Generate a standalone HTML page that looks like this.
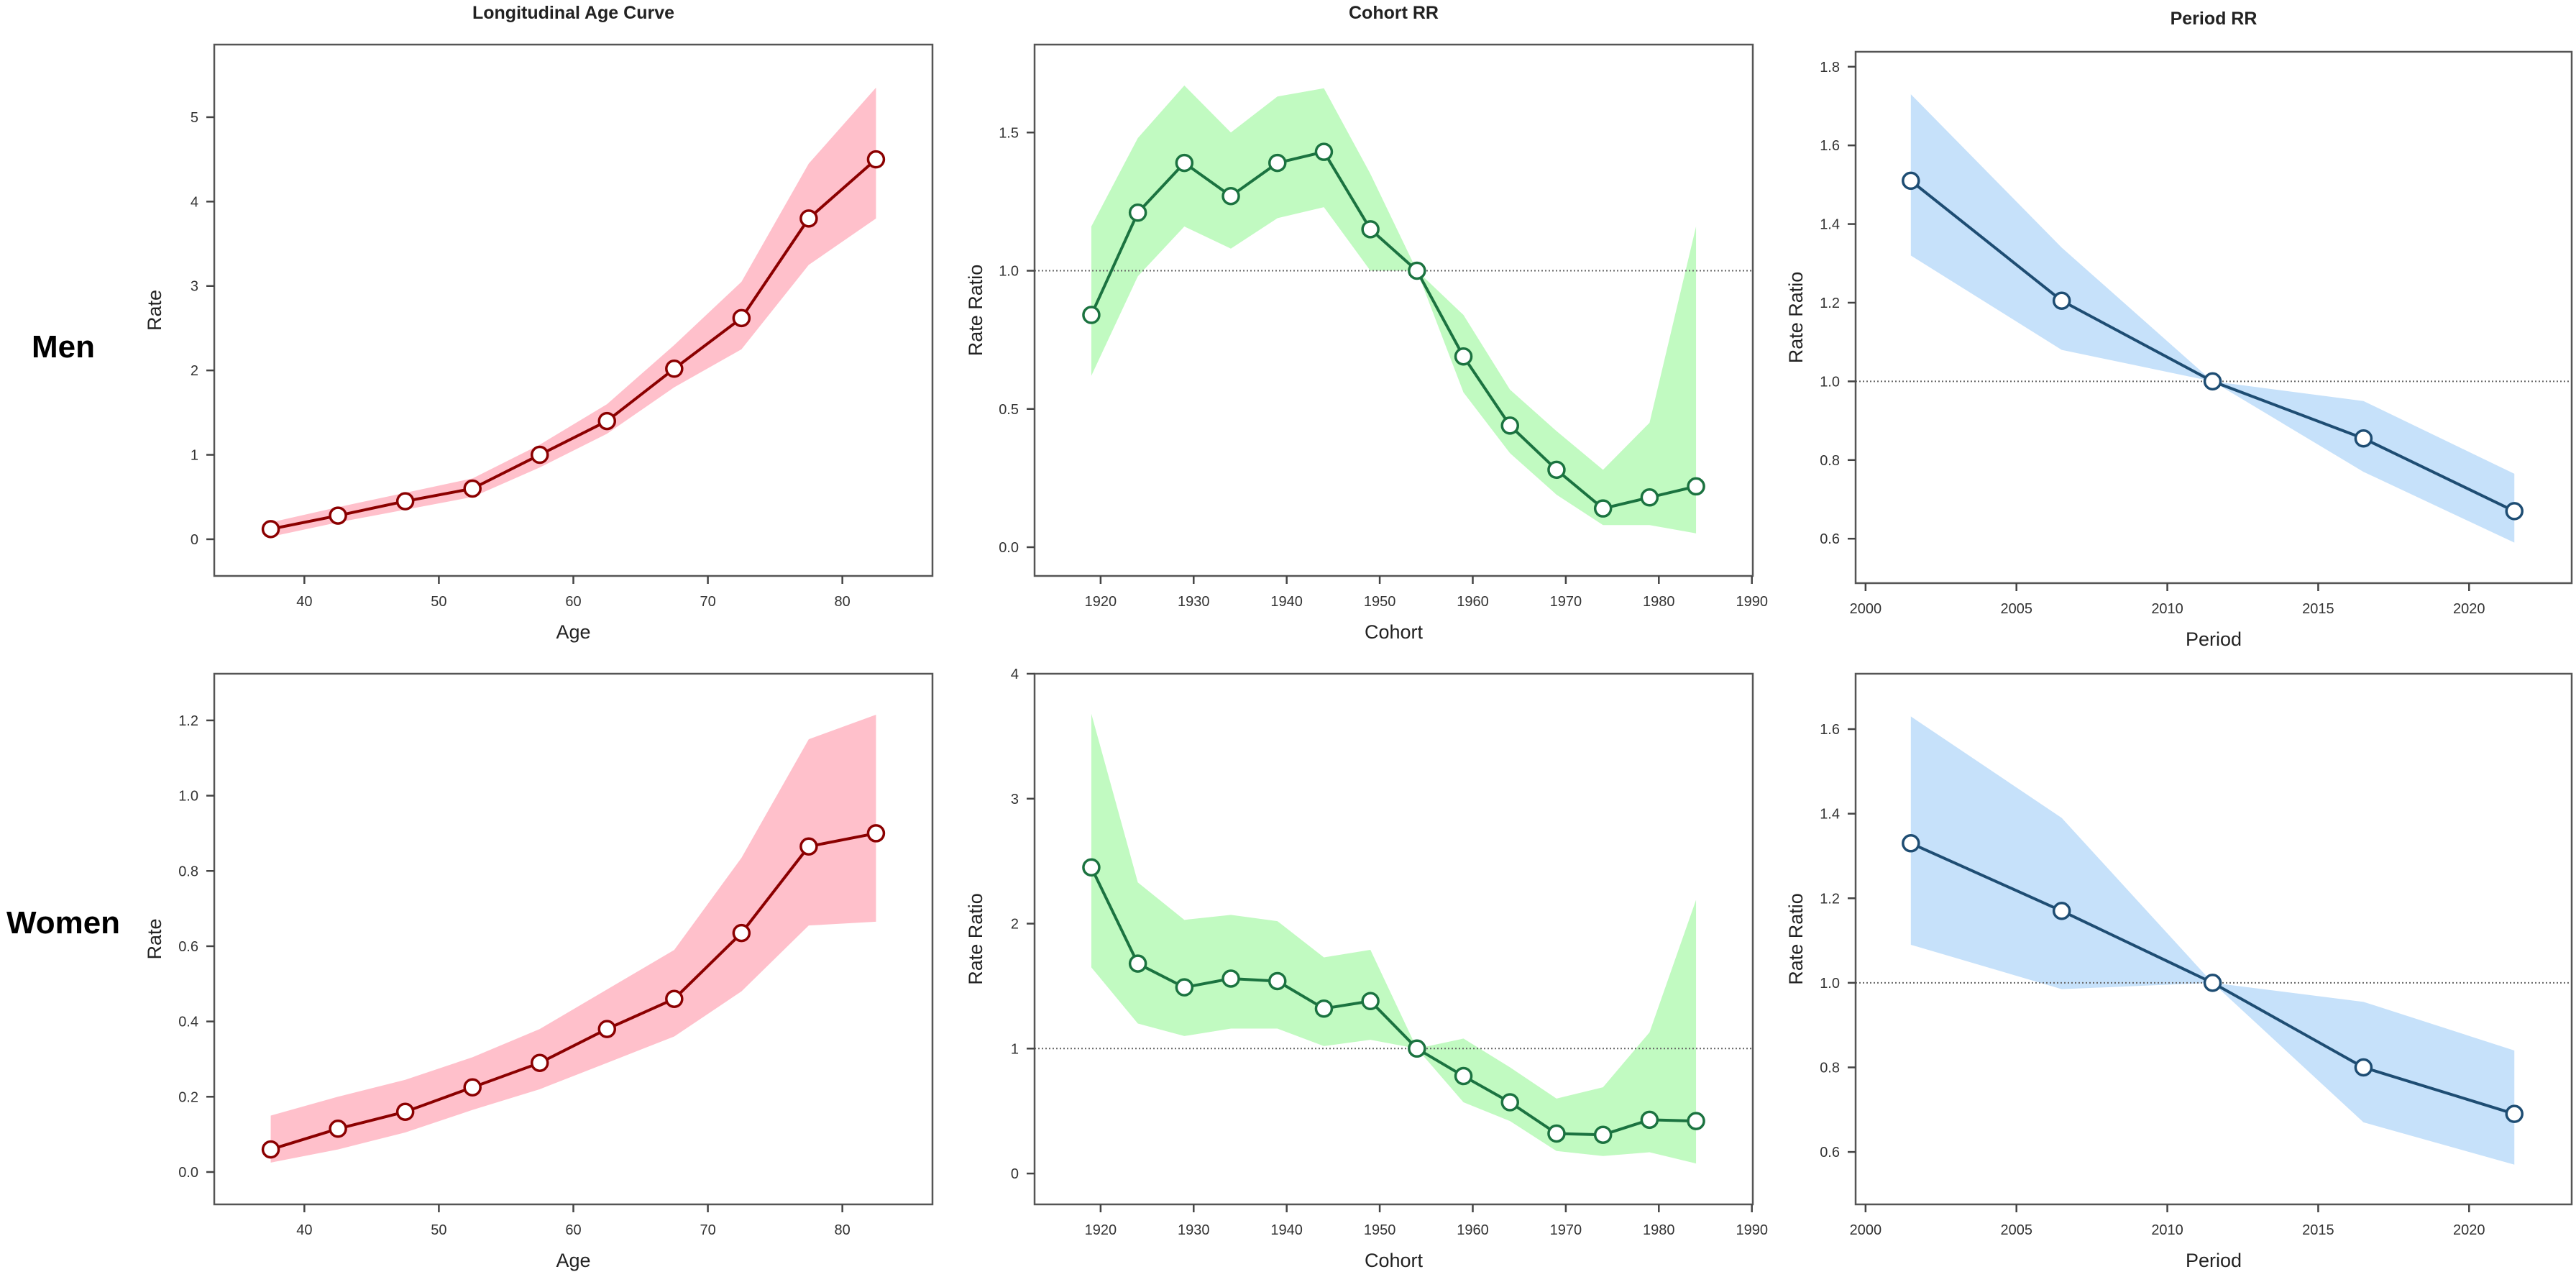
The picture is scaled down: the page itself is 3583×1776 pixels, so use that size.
<!DOCTYPE html>
<html><head><meta charset="utf-8"><style>
html,body{margin:0;padding:0;background:#fff;}
svg{display:block;}
text{font-family:"Liberation Sans",sans-serif;fill:#222;}
.tick{font-size:20px;fill:#333;}
.axt{font-size:27px;}
.ttl{font-size:25px;font-weight:bold;}
.row{font-size:44px;font-weight:bold;fill:#000;}
</style></head>
<body>
<svg id="chart" width="3583" height="1776" viewBox="0 0 3583 1776"></svg>
<script>
// ---- data ----
const ageX = [37.5,42.5,47.5,52.5,57.5,62.5,67.5,72.5,77.5,82.5];
const cohortX = [1919,1924,1929,1934,1939,1944,1949,1954,1959,1964,1969,1974,1979,1984];
const periodX = [2001.5,2006.5,2011.5,2016.5,2021.5];

const menAge = [0.12,0.28,0.45,0.6,1.0,1.4,2.02,2.62,3.8,4.5];
const menAgeLo = [0.03,0.2,0.35,0.5,0.85,1.25,1.8,2.25,3.25,3.8];
const menAgeHi = [0.2,0.38,0.55,0.72,1.12,1.6,2.3,3.05,4.45,5.35];

const menCoh = [0.84,1.21,1.39,1.27,1.39,1.43,1.15,1.0,0.69,0.44,0.28,0.14,0.18,0.22];
const menCohLo = [0.62,0.98,1.16,1.08,1.19,1.23,1.0,1.0,0.56,0.34,0.19,0.08,0.08,0.05];
const menCohHi = [1.16,1.48,1.67,1.5,1.63,1.66,1.35,1.0,0.84,0.57,0.42,0.28,0.45,1.16];

const menPer = [1.51,1.205,1.0,0.855,0.67];
const menPerLo = [1.32,1.08,1.0,0.77,0.59];
const menPerHi = [1.73,1.34,1.0,0.95,0.765];

const womAge = [0.06,0.115,0.16,0.225,0.29,0.38,0.46,0.635,0.865,0.9];
const womAgeLo = [0.025,0.06,0.105,0.165,0.22,0.29,0.36,0.48,0.655,0.665];
const womAgeHi = [0.15,0.2,0.245,0.305,0.38,0.485,0.59,0.835,1.15,1.215];

const womCoh = [2.45,1.68,1.49,1.56,1.54,1.32,1.38,1.0,0.78,0.57,0.32,0.31,0.43,0.42];
const womCohLo = [1.65,1.2,1.1,1.16,1.16,1.02,1.07,1.0,0.57,0.42,0.18,0.14,0.17,0.08];
const womCohHi = [3.68,2.33,2.03,2.07,2.02,1.73,1.79,1.0,1.08,0.85,0.6,0.69,1.13,2.19];

const womPer = [1.33,1.17,1.0,0.8,0.69];
const womPerLo = [1.09,0.985,1.0,0.67,0.57];
const womPerHi = [1.63,1.39,1.0,0.955,0.84];

const ageTicks = [40,50,60,70,80];
const cohortTicks = [1920,1930,1940,1950,1960,1970,1980,1990];
const periodTicks = [2000,2005,2010,2015,2020];
const menAgeYTicks = ["0","1","2","3","4","5"];
const menCohYTicks = ["0.0","0.5","1.0","1.5"];
const menPerYTicks = ["0.6","0.8","1.0","1.2","1.4","1.6","1.8"];
const womAgeYTicks = ["0.0","0.2","0.4","0.6","0.8","1.0","1.2"];
const womCohYTicks = ["0","1","2","3","4"];
const womPerYTicks = ["0.6","0.8","1.0","1.2","1.4","1.6"];

const NS = "http://www.w3.org/2000/svg";
const svg = document.getElementById("chart");
function mk(tag, attrs, parent){
  const e = document.createElementNS(NS, tag);
  for (const k in attrs) e.setAttribute(k, attrs[k]);
  (parent||svg).appendChild(e);
  return e;
}

function panel(o){
  const g = mk("g", {});
  
  
  const sx = v => o.L + (v - o.xd[0]) / (o.xd[1] - o.xd[0]) * (o.R - o.L);
  const sy = v => o.B - (v - o.yd[0]) / (o.yd[1] - o.yd[0]) * (o.B - o.T);
  let d = "";
  o.x.forEach((v,i)=>{ d += (i? "L":"M") + sx(v) + "," + sy(o.hi[i]); });
  for (let i=o.x.length-1;i>=0;i--) d += "L" + sx(o.x[i]) + "," + sy(o.lo[i]);
  const band = mk("path", {d: d+"Z", fill:o.band, stroke:"none"}, g);
  
  
  if (o.ref) {
    const rl = mk("line", {x1:o.L, x2:o.R, y1:sy(1), y2:sy(1), stroke:"#666", "stroke-width":2, "stroke-dasharray":"2,3"}, g);
    
    
  }
  const box = mk("rect", {x:o.L, y:o.T, width:o.R-o.L, height:o.B-o.T, fill:"none", stroke:"#555", "stroke-width":2.5}, g);
  
  
  o.xt.forEach(t=>{
    const x = sx(t);
    mk("line", {x1:x,x2:x,y1:o.B,y2:o.B+11,stroke:"#444","stroke-width":2.5}, g);
    const tx = mk("text", {x:x, y:o.B+42, "text-anchor":"middle", class:"tick"}, g);
    tx.textContent = t;
    
    
  });
  o.yt.forEach(t=>{
    const y = sy(parseFloat(t));
    mk("line", {x1:o.L,x2:o.L-11,y1:y,y2:y,stroke:"#444","stroke-width":2.5}, g);
    const ty = mk("text", {x:o.L-22, y:y+7, "text-anchor":"end", class:"tick"}, g);
    ty.textContent = t;
    
    
  });
  const pts = o.x.map((v,i)=> sx(v)+","+sy(o.y[i])).join(" ");
  const pl = mk("polyline", {points:pts, fill:"none", stroke:o.line, "stroke-width":4}, g);
  
  
  o.x.forEach((v,i)=>{
    const c = mk("circle", {cx:sx(v), cy:sy(o.y[i]), r:11, fill:"#fff", stroke:o.line, "stroke-width":3.5}, g);
    
    
  });
  const xt = mk("text", {x:(o.L+o.R)/2, y:o.B+87, "text-anchor":"middle", class:"axt"}, g);
  xt.textContent = o.xlab;
  
  
  const yx = o.ylx, yy = (o.T+o.B)/2;
  const yt = mk("text", {x:yx, y:yy, "text-anchor":"middle", "dominant-baseline":"central", class:"axt", transform:`rotate(-90 ${yx} ${yy})`}, g);
  yt.textContent = o.ylab;
  
  
  if (o.title) {
    const tt = mk("text", {x:(o.L+o.R)/2, y:o.titleY, "text-anchor":"middle", class:"ttl"}, g);
    tt.textContent = o.title;
    
    
  }
}

const pink = "#ffc0cb", red = "#8b0000", green = "#c1fac1", dgreen = "#1b7340", blue = "#c6e1fa", dblue = "#1e4d73";

panel({name:"men-age-panel", L:298,R:1297,T:62,B:801, xd:[33.3,86.7], yd:[-0.435,5.86], x:ageX, y:menAge, lo:menAgeLo, hi:menAgeHi, xt:ageTicks, yt:menAgeYTicks, band:pink, line:red, xlab:"Age", ylab:"Rate", ylx:215, title:"Longitudinal Age Curve", titleY:26});
panel({name:"men-cohort-panel", L:1439,R:2438,T:62,B:801, xd:[1912.9,1990.1], yd:[-0.104,1.818], x:cohortX, y:menCoh, lo:menCohLo, hi:menCohHi, xt:cohortTicks, yt:menCohYTicks, band:green, line:dgreen, xlab:"Cohort", ylab:"Rate Ratio", ylx:1357, ref:true, title:"Cohort RR", titleY:26});
panel({name:"men-period-panel", L:2581,R:3577,T:72,B:811, xd:[1999.67,2023.4], yd:[0.487,1.838], x:periodX, y:menPer, lo:menPerLo, hi:menPerHi, xt:periodTicks, yt:menPerYTicks, band:blue, line:dblue, xlab:"Period", ylab:"Rate Ratio", ylx:2498, ref:true, title:"Period RR", titleY:34});

panel({name:"women-age-panel", L:298,R:1297,T:937,B:1675, xd:[33.3,86.7], yd:[-0.086,1.324], x:ageX, y:womAge, lo:womAgeLo, hi:womAgeHi, xt:ageTicks, yt:womAgeYTicks, band:pink, line:red, xlab:"Age", ylab:"Rate", ylx:215});
panel({name:"women-cohort-panel", L:1439,R:2438,T:937,B:1675, xd:[1912.9,1990.1], yd:[-0.247,4.0], x:cohortX, y:womCoh, lo:womCohLo, hi:womCohHi, xt:cohortTicks, yt:womCohYTicks, band:green, line:dgreen, xlab:"Cohort", ylab:"Rate Ratio", ylx:1357, ref:true});
panel({name:"women-period-panel", L:2581,R:3577,T:937,B:1675, xd:[1999.67,2023.4], yd:[0.476,1.731], x:periodX, y:womPer, lo:womPerLo, hi:womPerHi, xt:periodTicks, yt:womPerYTicks, band:blue, line:dblue, xlab:"Period", ylab:"Rate Ratio", ylx:2498, ref:true});

const men = mk("text", {x:88, y:497, "text-anchor":"middle", class:"row"});
men.textContent = "Men";


const wom = mk("text", {x:88, y:1298, "text-anchor":"middle", class:"row"});
wom.textContent = "Women";


</script>
</body></html>
